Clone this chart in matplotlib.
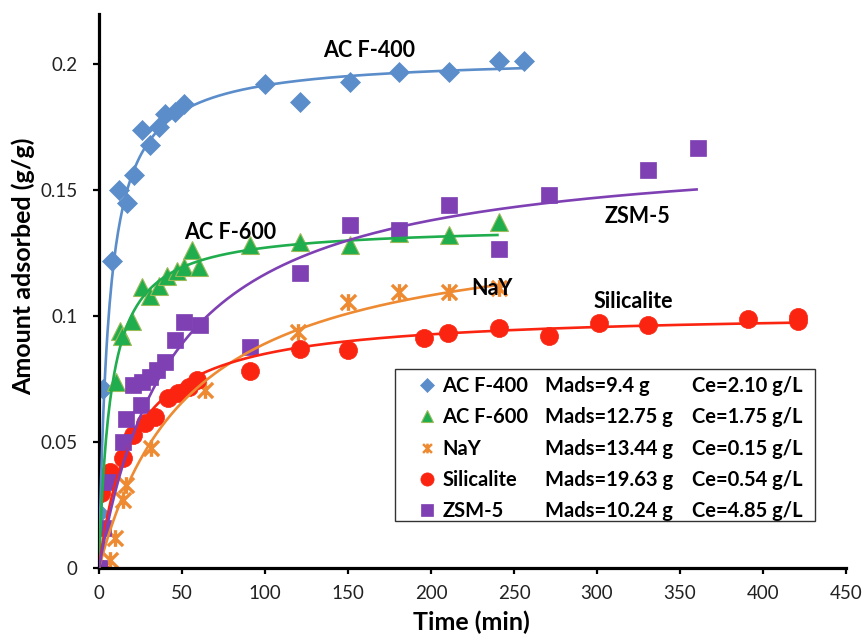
import numpy as np
import matplotlib
matplotlib.use("Agg")
import matplotlib.pyplot as plt
from matplotlib.lines import Line2D
from matplotlib.path import Path
from matplotlib.patches import Rectangle

# ---- adsorption kinetics: time (min) vs amount adsorbed (g/g) ----
t_acf400 = [0, 2.5, 8, 12, 17, 21, 26, 31, 36, 40, 46, 51, 100, 121, 151, 181, 211, 241, 256]
q_acf400 = [0.022, 0.071, 0.122, 0.150, 0.145, 0.156, 0.174, 0.168, 0.175, 0.180,
            0.181, 0.184, 0.192, 0.185, 0.193, 0.197, 0.197, 0.201, 0.201]

t_acf600 = [0, 1.5, 10.5, 12.5, 14, 20, 26, 31, 36, 41, 47, 51, 56, 60, 91, 121, 151, 181, 211, 241]
q_acf600 = [0, 0.034, 0.074, 0.094, 0.092, 0.098, 0.1116, 0.108, 0.112, 0.116, 0.118,
            0.1196, 0.1262, 0.1196, 0.1282, 0.1295, 0.1282, 0.1328, 0.1321, 0.1374]

t_nay = [0, 6.5, 9.5, 14.5, 16.5, 31.5, 64, 120, 150, 181, 211, 241]
q_nay = [0, 0.003, 0.012, 0.027, 0.033, 0.0475, 0.0708, 0.0938, 0.1057, 0.1097, 0.1097, 0.111]

t_sil = [0, 1.5, 6.5, 14.5, 20.5, 27.5, 33.5, 41.5, 47.5, 54.5, 59, 91, 121, 150,
         196, 210, 241, 271, 301, 331, 391, 421, 421]
q_sil = [0, 0.0296, 0.0382, 0.0435, 0.0528, 0.0574, 0.060, 0.0673, 0.0693, 0.072, 0.0746,
         0.078, 0.0870, 0.0865, 0.0911, 0.0931, 0.0951, 0.0921, 0.0971, 0.0964, 0.0987,
         0.0997, 0.098]

t_zsm = [0, 2.5, 5.5, 14.5, 16.5, 20.5, 25.5, 26, 31, 35, 40, 46, 51, 61, 91, 121,
         151, 181, 211, 241, 271, 331, 361]
q_zsm = [0, 0.016, 0.034, 0.050, 0.059, 0.0726, 0.0647, 0.0739, 0.0759, 0.0786, 0.0819,
         0.0905, 0.0978, 0.0964, 0.0878, 0.117, 0.136, 0.134, 0.144, 0.1265, 0.148, 0.158, 0.1665]

# pseudo-second-order fits: q = qe * t / (t + t_half), drawn up to t_end
names = ["AC F-400", "AC F-600", "NaY", "Silicalite", "ZSM-5"]
fit_qe = [0.203, 0.136, 0.138, 0.102, 0.169]
fit_thalf = [6.0, 7.0, 55.0, 20.0, 45.0]
fit_tend = [255, 240, 240, 420, 360]

mads = ["Mads=9.4 g", "Mads=12.75 g", "Mads=13.44 g", "Mads=19.63 g", "Mads=10.24 g"]
ce = ["Ce=2.10 g/L", "Ce=1.75 g/L", "Ce=0.15 g/L", "Ce=0.54 g/L", "Ce=4.85 g/L"]

x_ticks = [0, 50, 100, 150, 200, 250, 300, 350, 400, 450]
y_ticks = [0, 0.05, 0.1, 0.15, 0.2]
y_ticklabels = ["0", "0.05", "0.1", "0.15", "0.2"]

colors = ["#5A8DCA", "#20AD4E", "#EE8A32", "#FA2410", "#7F40B4"]

# asterisk-like marker: an X with a vertical stroke
star_path = Path([(-1, -1), (1, 1), (-1, 1), (1, -1), (0, -1.1), (0, 1.1)],
                 [Path.MOVETO, Path.LINETO] * 3)

marker_styles = [
    dict(marker="D", ms=10.5, mec=colors[0], mew=0.5),
    dict(marker="^", ms=13, mec="#9BBB59", mew=0.8),
    dict(marker=star_path, ms=12, mec=colors[2], mew=2.4, mfc="none"),
    dict(marker="o", ms=13, mec=colors[3], mew=0.5),
    dict(marker="s", ms=11.5, mec=colors[4], mew=0.5),
]

series_t = [t_acf400, t_acf600, t_nay, t_sil, t_zsm]
series_q = [q_acf400, q_acf600, q_nay, q_sil, q_zsm]

FONT = ["Lato", "DejaVu Sans"]
plt.rcParams["font.family"] = FONT

fig = plt.figure(figsize=(8.67, 6.37), dpi=100)
ax = fig.add_axes([99 / 867, 69 / 637, 747 / 867, 554.4 / 637])

for i in range(5):
    st = dict(marker_styles[i])
    mfc = st.pop("mfc", colors[i])
    ax.plot(series_t[i], series_q[i], linestyle="none", mfc=mfc, zorder=2 + i * 0.1, **st)

for i in range(5):
    tt = np.linspace(0, fit_tend[i], 400)
    qq = fit_qe[i] * tt / (tt + fit_thalf[i])
    ax.plot(tt, qq, color=colors[i], lw=1.9, zorder=4)

ax.set_xlim(0, 450)
ax.set_ylim(0, 0.22)
ax.set_xticks(x_ticks)
ax.set_yticks(y_ticks)
ax.set_yticklabels(y_ticklabels)
for s in ["top", "right"]:
    ax.spines[s].set_visible(False)
for s in ["left", "bottom"]:
    ax.spines[s].set_linewidth(2.3)
    ax.spines[s].set_color("black")
ax.tick_params(axis="both", direction="out", length=4.3, width=1.6, labelsize=13.5,
               labelcolor="#222222")
ax.tick_params(axis="y", pad=11)
ax.tick_params(axis="x", pad=8)

ax.set_xlabel("Time (min)", fontsize=18, fontweight="bold")
ax.xaxis.label.set_verticalalignment("center")
ax.xaxis.set_label_coords(0.499, -0.0974)
fig.text(23 / 867, 1 - 266 / 637, "Amount adsorbed (g/g)", rotation=90, ha="center",
         va="center", fontsize=18, fontweight="bold")

# series labels
label_pos = {"AC F-400": (163, 0.2052), "AC F-600": (79, 0.1333), "ZSM-5": (324.5, 0.1393),
             "NaY": (237, 0.1111), "Silicalite": (322, 0.1058)}
for name, (lx, ly) in label_pos.items():
    ax.text(lx, ly, name, ha="center", va="center", fontsize=15.5, fontweight="bold", zorder=6)

# legend box with three aligned columns
ax.add_patch(Rectangle((0.3963, 0.0848), 0.5622, 0.2742, transform=ax.transAxes,
                       facecolor="white", edgecolor="#333333", lw=1.0, zorder=6))

handles = []
leg_ms = [7, 9, 7, 9.5, 8]
for i in range(5):
    st = dict(marker_styles[i])
    mfc = st.pop("mfc", colors[i])
    st["ms"] = leg_ms[i]
    if i == 2:
        st["mew"] = 1.8
    handles.append(Line2D([], [], linestyle="none", mfc=mfc, **st))
blank = [Line2D([], [], linestyle="none") for _ in range(5)]

common = dict(loc="upper left", frameon=False, labelspacing=0.56, borderpad=0,
              borderaxespad=0, prop=dict(family=FONT, weight="bold", size=14.5))
col_x = [0.4287, 0.5971, 0.7938]
leg1 = ax.legend(handles, names, bbox_to_anchor=(col_x[0], 0.346), handlelength=0.8,
                 handletextpad=0.35, **common)
leg1.set_zorder(7)
ax.add_artist(leg1)
leg2 = ax.legend(blank, mads, bbox_to_anchor=(col_x[1], 0.346), handlelength=0,
                 handletextpad=0, **common)
leg2.set_zorder(7)
ax.add_artist(leg2)
leg3 = ax.legend(blank, ce, bbox_to_anchor=(col_x[2], 0.346), handlelength=0,
                 handletextpad=0, **common)
leg3.set_zorder(7)

fig.savefig("out.png", dpi=100)
